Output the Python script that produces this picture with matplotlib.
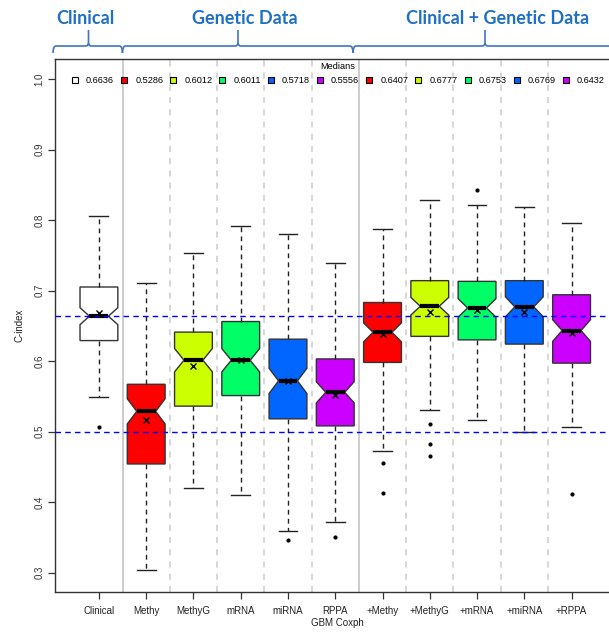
import matplotlib
matplotlib.use('Agg')
import matplotlib.pyplot as plt
from matplotlib.lines import Line2D
from matplotlib.path import Path
from matplotlib.patches import PathPatch
import numpy as np

plt.rcParams['font.family'] = ['Liberation Sans', 'DejaVu Sans']

# ---------------- data ----------------
categories = ['Clinical', 'Methy', 'MethyG', 'mRNA', 'miRNA', 'RPPA',
              '+Methy', '+MethyG', '+mRNA', '+miRNA', '+RPPA']
medians = [0.6636, 0.5286, 0.6012, 0.6011, 0.5718, 0.5556,
           0.6407, 0.6777, 0.6753, 0.6769, 0.6432]
q1 = [0.629, 0.454, 0.536, 0.551, 0.518, 0.508, 0.598, 0.635, 0.630, 0.624, 0.597]
q3 = [0.705, 0.567, 0.641, 0.656, 0.631, 0.603, 0.683, 0.714, 0.713, 0.714, 0.694]
whislo = [0.549, 0.304, 0.420, 0.410, 0.359, 0.372, 0.473, 0.531, 0.516, 0.499, 0.507]
whishi = [0.806, 0.710, 0.753, 0.791, 0.780, 0.739, 0.787, 0.828, 0.821, 0.819, 0.796]
means = [0.668, 0.516, 0.593, 0.601, 0.571, 0.552, 0.638, 0.670, 0.672, 0.670, 0.640]
outliers = [[0.506], [], [], [], [0.3465], [0.351], [0.456, 0.413],
            [0.511, 0.483, 0.465], [0.842], [], [0.412]]
box_colors = ['#FFFFFF', '#FF0000', '#CCFF00', '#00FF66', '#0066FF', '#CC00FF',
              '#FF0000', '#CCFF00', '#00FF66', '#0066FF', '#CC00FF']
ref_lines = [0.6636, 0.5]
n_obs = 100
group_titles = ['Clinical', 'Genetic Data', 'Clinical + Genetic Data']

# ---------------- figure ----------------
W, H = 609, 634
fig = plt.figure(figsize=(W / 100, H / 100), dpi=100)
ax_l, ax_r, ax_t, ax_b = 54.5, 616.0, 59.0, 591.7
ax = fig.add_axes([ax_l / W, 1 - ax_b / H, (ax_r - ax_l) / W, (ax_b - ax_t) / H])

positions = np.arange(1, len(categories) + 1)
stats = []
for i in range(len(categories)):
    half = 1.58 * (q3[i] - q1[i]) / np.sqrt(n_obs)
    stats.append(dict(med=medians[i], q1=q1[i], q3=q3[i], whislo=whislo[i],
                      whishi=whishi[i], mean=means[i], fliers=outliers[i],
                      cilo=medians[i] - half, cihi=medians[i] + half,
                      label=categories[i]))

bp = ax.bxp(stats, positions=positions, widths=0.8, shownotches=True,
            showmeans=True, patch_artist=True, showfliers=True,
            boxprops=dict(edgecolor='#333333', linewidth=1.0),
            medianprops=dict(color='black', linewidth=3, solid_capstyle='butt'),
            whiskerprops=dict(color='#222222', linewidth=1.0, linestyle=(0, (3.5, 3))),
            capprops=dict(color='#222222', linewidth=1.0),
            meanprops=dict(marker='x', markeredgecolor='black', markersize=4.8,
                           markeredgewidth=1.0),
            flierprops=dict(marker='o', markerfacecolor='black',
                            markeredgecolor='black', markersize=2),
            zorder=3)
for patch, c in zip(bp['boxes'], box_colors):
    patch.set_facecolor(c)

# separators
for k in range(len(categories) - 1):
    xpos = positions[k] + 0.5
    if k in (0, 5):
        ax.axvline(xpos, color='#CCCCCC', lw=1.4, zorder=1)
    else:
        ax.axvline(xpos, color='#CCCCCC', lw=1.1, linestyle=(0, (4, 4)), zorder=1)

for v in ref_lines:
    ax.axhline(v, color='#0000FF', lw=1.0, linestyle=(0, (4, 3)), zorder=5)

ax.set_xlim(0.06, 11.94)
ax.set_ylim(0.2728, 1.0284)
yt = np.round(np.arange(0.3, 1.01, 0.1), 1)
ax.set_yticks(yt)
ax.set_yticklabels([f'{v:.1f}' for v in yt], rotation=90, va='center', fontsize=7, color='#333333')
ax.set_xticks(positions)
ax.set_xticklabels(categories, fontsize=7, color='#222222')
ax.tick_params(axis='both', length=5, width=0.9, color='#333333')
ax.tick_params(axis='x', pad=5)
ax.tick_params(axis='y', pad=2)
for s in ax.spines.values():
    s.set_color('#333333')
    s.set_linewidth(1.0)

ax.set_xlabel('GBM Coxph', fontsize=7, color='#222222')
ax.set_ylabel('C-index', fontsize=7, color='#222222')
ax.xaxis.set_label_coords((337 - ax_l) / (ax_r - ax_l), -(623 - ax_b) / (ax_b - ax_t))
ax.xaxis.label.set_va('center')
ax.yaxis.set_label_coords(-(ax_l - 20) / (ax_r - ax_l), 0.5)
ax.yaxis.label.set_va('center')

# legend of medians
handles = [Line2D([], [], marker='s', linestyle='none', markerfacecolor=c,
                  markeredgecolor='black', markersize=4.8, markeredgewidth=0.8)
           for c in box_colors]
labels = [f'{m:.4f}' for m in medians]
leg = fig.legend(handles, labels, ncol=len(categories), title='Medians', loc='center',
                 bbox_to_anchor=(338 / W, 1 - 73.5 / H), frameon=False, fontsize=6.6,
                 title_fontsize=6.6, handlelength=0.8, handletextpad=0.8,
                 columnspacing=0.7, borderpad=0, borderaxespad=0)

# group titles & braces
txt_color = '#1F6FC4'
brace_color = '#3D74C4'
title_x = [85, 245, 498]
for t, xc in zip(group_titles, title_x):
    fig.text(xc / W, 1 - 19 / H, t, ha='center', va='center', fontsize=13,
             fontweight='bold', family=['Lato', 'DejaVu Sans'], color=txt_color)

def brace(x0, x1, xc, y_line=46, y_end=53, y_top=30, r=3):
    def P(x, y):
        return (x / W, 1 - y / H)
    verts = [P(x0, y_end), P(x0, y_line), P(x0 + r, y_line),
             P(xc - r, y_line), P(xc, y_line), P(xc, y_line - r),
             P(xc, y_top),
             P(xc, y_line - r), P(xc, y_line), P(xc + r, y_line),
             P(x1 - r, y_line), P(x1, y_line), P(x1, y_end)]
    codes = [Path.MOVETO, Path.CURVE3, Path.CURVE3,
             Path.LINETO, Path.CURVE3, Path.CURVE3,
             Path.LINETO,
             Path.MOVETO, Path.CURVE3, Path.CURVE3,
             Path.LINETO, Path.CURVE3, Path.CURVE3]
    fig.patches.append(PathPatch(Path(verts, codes), transform=fig.transFigure,
                                 fill=False, edgecolor=brace_color, lw=1.2))

brace(53, 122.5, 88.5)
brace(122.5, 353, 238)
brace(353, 640, 485)

fig.savefig('out.png', dpi=100)
